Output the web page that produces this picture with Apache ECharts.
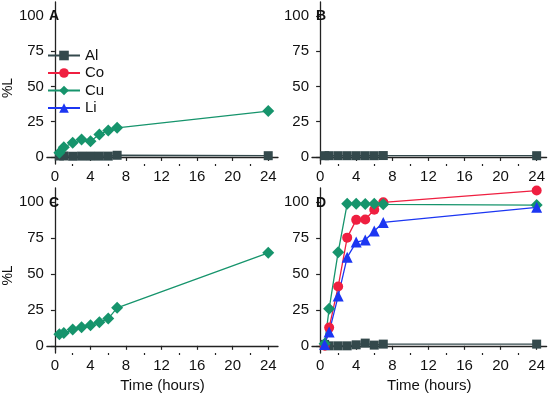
<!DOCTYPE html>
<html>
<head>
<meta charset="utf-8">
<script src="https://cdn.jsdelivr.net/npm/echarts@6/dist/echarts.min.js"></script>
<style>
  html, body { margin: 0; padding: 0; background: #fff; }
  #chart { width: 548px; height: 395px; }
</style>
</head>
<body>
<div id="chart"></div>
<script>
  // sampling times (hours)
  var hours = [0.5, 1, 2, 3, 4, 5, 6, 7, 24];
  var xTicks = [0, 4, 8, 12, 16, 20, 24];
  var xMinorTicks = [2, 6, 10, 14, 18, 22];
  var yTicks = [0, 25, 50, 75, 100];
  var panelLetters = ['A', 'B', 'C', 'D'];

  // %L per panel
  var aAl = [0.7, 0.7, 0.5, 0.6, 0.6, 0.6, 0.6, 1.2, 0.9];
  var aCu = [2.9, 6.9, 10, 12.4, 11.2, 16, 18.8, 20.7, 32.6];
  var bAl = [0.9, 0.9, 0.9, 0.9, 0.9, 0.9, 0.9, 1.0, 0.9];
  var cCu = [8, 8.9, 11.3, 12.9, 14.3, 16.4, 19, 26.5, 64.8];
  var dAl = [1, 0, 0, 0, 0.7, 1.9, 0.5, 1.2, 1.2];
  var dCo = [0, 12.7, 41.3, 75.4, 87.8, 88, 94.8, 100, 108.2];
  var dCu = [1.4, 25.8, 65.3, 99, 99, 98.8, 99, 98.6, 98.1];
  var dLi = [1, 9.6, 34.7, 61.7, 72.3, 73.7, 80, 86, 96.5];

  var colors = { Al: '#34494c', Co: '#ef1f40', Cu: '#16946c', Li: '#1c36f2' };
  var symbols = { Al: ['rect', 9], Co: ['circle', 10], Cu: ['diamond', 12], Li: ['triangle', 11] };

  var font = '"Liberation Sans", Arial, sans-serif';
  var axisColor = '#222';

  var grids = [
    { left: 45, top: 2, width: 233, height: 162 },
    { left: 312, top: 2, width: 235, height: 162 },
    { left: 45, top: 188, width: 233, height: 165 },
    { left: 312, top: 188, width: 235, height: 165 }
  ];

  function pair(vals) {
    return hours.map(function (h, i) { return [h, vals[i]]; });
  }

  var xAxes = [], yAxes = [], titles = [];
  grids.forEach(function (g, i) {
    var bottomRow = i >= 2;
    xAxes.push({
      type: 'value', gridIndex: i, min: -0.9, max: 25.1,
      splitLine: { show: false },
      axisLine: { lineStyle: { color: axisColor, width: 1.3 } },
      axisTick: { customValues: xTicks, length: 4, lineStyle: { color: axisColor, width: 1.2 } },
      axisLabel: { customValues: xTicks, color: '#111', fontSize: 15, fontFamily: font, margin: 5 },
      name: bottomRow ? 'Time (hours)' : '',
      nameLocation: 'middle', nameGap: 25,
      nameTextStyle: { color: '#111', fontSize: 15, fontFamily: font }
    });
    // minor ticks
    xAxes.push({
      type: 'value', gridIndex: i, min: -0.9, max: 25.1, position: 'bottom',
      splitLine: { show: false },
      axisLine: { show: false },
      axisTick: { customValues: xMinorTicks, length: 2, lineStyle: { color: axisColor, width: 1.2 } },
      axisLabel: { show: false }
    });
    yAxes.push({
      type: 'value', gridIndex: i, min: -5, max: 110,
      splitLine: { show: false },
      axisLine: { show: true, lineStyle: { color: axisColor, width: 1.3 } },
      axisTick: { show: true, customValues: yTicks, length: 4, lineStyle: { color: axisColor, width: 1.2 } },
      axisLabel: { customValues: yTicks, color: '#111', fontSize: 15, fontFamily: font, margin: 3 },
      name: i % 2 === 0 ? '%L' : '',
      nameLocation: 'middle', nameGap: 27, nameRotate: 90,
      nameTextStyle: { color: '#111', fontSize: 14, fontFamily: font, padding: [0, 10, 0, 0] }
    });
    titles.push({
      text: panelLetters[i],
      left: g.left + 4, top: g.top + (i >= 2 ? 8 : 7), padding: 0,
      textStyle: { fontSize: 14, fontWeight: 'bold', color: '#111', fontFamily: font }
    });
  });

  function line(name, vals, grid) {
    return {
      name: name, type: 'line', data: pair(vals),
      xAxisIndex: grid * 2, yAxisIndex: grid,
      symbol: symbols[name][0], symbolSize: symbols[name][1],
      lineStyle: { color: colors[name], width: 1.3 },
      itemStyle: { color: colors[name] },
      animation: false
    };
  }

  var chart = echarts.init(document.getElementById('chart'));
  var option = {
    backgroundColor: '#fff',
    title: titles,
    grid: grids,
    xAxis: xAxes,
    yAxis: yAxes,
    legend: {
      data: ['Al', 'Co', 'Cu', 'Li'],
      orient: 'vertical', left: 47, top: 48, padding: 0,
      itemWidth: 32, itemHeight: 12, itemGap: 2.5,
      textStyle: { fontSize: 15, color: '#111', fontFamily: font }
    },
    series: [
      line('Al', aAl, 0),
      line('Cu', aCu, 0),
      line('Al', bAl, 1),
      line('Cu', cCu, 2),
      line('Al', dAl, 3),
      line('Co', dCo, 3),
      line('Cu', dCu, 3),
      line('Li', dLi, 3)
    ]
  };
  option && chart.setOption(option);
</script>
</body>
</html>
